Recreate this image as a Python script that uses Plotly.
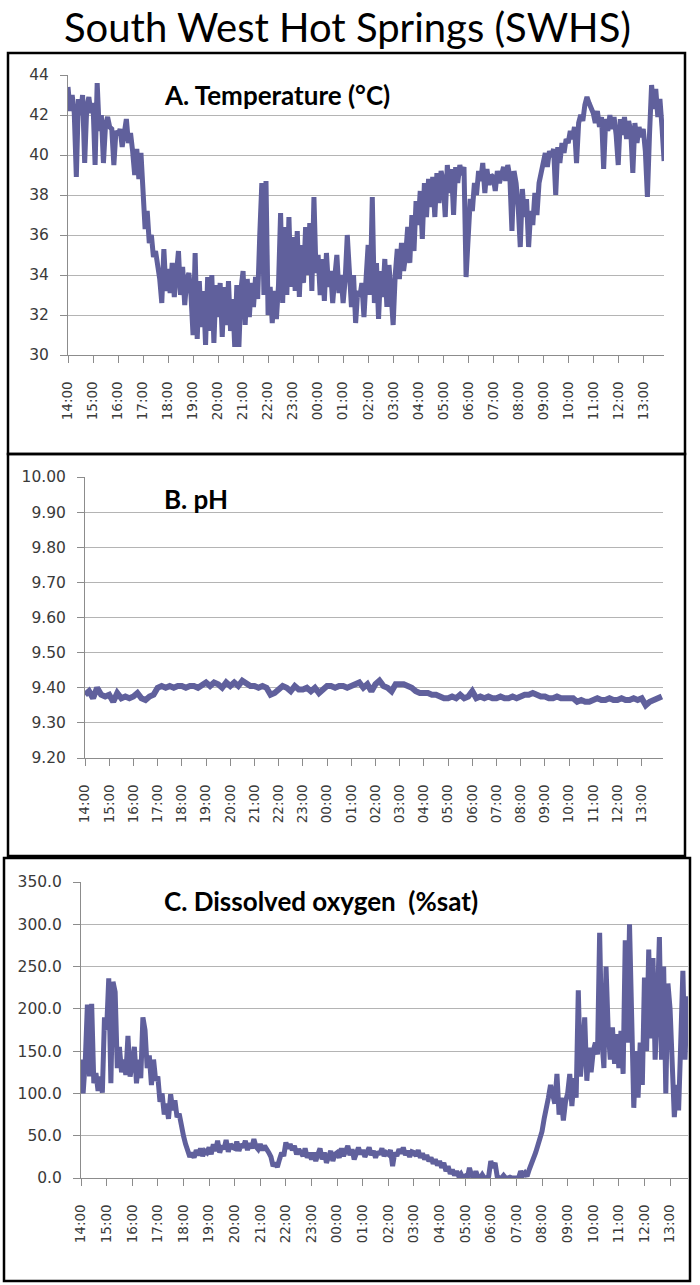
import pandas as pd
import plotly.graph_objects as go

START = "2000-01-01 14:00"

# Temperature (deg C), every 5 minutes from 14:00
temp_c = [
    43.4, 42.2, 43.0, 42.1, 38.9, 42.8, 42.0, 43.0, 39.6, 42.4, 42.9, 42.1,
    42.6, 39.5, 43.6, 41.2, 42.0, 39.6, 41.5, 41.9, 41.4, 41.3, 39.5, 41.2,
    41.0, 41.3, 40.4, 41.0, 41.8, 40.6, 41.1, 40.2, 39.0, 40.3, 38.8, 40.1,
    37.5, 36.3, 37.2, 35.6, 36.0, 34.9, 35.2, 34.5, 33.8, 32.6, 35.3, 33.2,
    34.3, 33.1, 34.6, 32.9, 34.0, 35.2, 33.0, 34.4, 32.5, 33.8, 34.1, 33.0,
    31.0, 35.1, 30.8, 33.7, 31.4, 33.2, 30.5, 33.9, 31.2, 34.0, 30.6, 33.5,
    31.9, 33.6, 30.9, 33.4, 31.5, 33.7, 31.2, 32.8, 30.4, 33.5, 30.4, 33.3,
    34.2, 31.5, 33.8, 31.9, 33.6, 32.4, 33.9, 32.8, 36.0, 38.6, 33.0, 38.7,
    32.0, 33.4, 31.6, 33.2, 31.8, 33.5, 37.1, 32.6, 36.4, 33.0, 36.9, 33.4,
    35.9, 33.2, 36.2, 32.9, 35.5, 33.6, 36.4, 34.0, 36.6, 33.2, 37.9, 34.1,
    35.0, 33.0, 34.8, 32.7, 35.1, 33.4, 34.2, 32.6, 33.9, 35.0, 33.1, 34.0,
    32.6, 33.8, 36.0, 33.5, 32.4, 34.0, 31.6, 33.2, 32.9, 33.6, 31.9, 33.8,
    35.5, 33.0, 37.9, 32.6, 34.6, 31.8, 34.2, 32.9, 34.8, 32.4, 34.5, 33.1,
    31.5, 34.0, 35.3, 33.8, 35.6, 34.2, 35.0, 36.4, 34.6, 37.0, 35.2, 37.7,
    36.5, 38.2, 35.8, 38.6, 36.9, 38.8, 37.4, 38.9, 36.9, 39.1, 37.6, 39.2,
    38.7, 36.9, 39.5, 38.1, 39.3, 37.0, 39.4, 38.6, 39.5, 39.0, 39.4, 33.9,
    36.4, 37.8, 37.2, 38.6, 38.0, 39.2, 38.7, 39.6, 38.1, 39.3, 38.5, 39.0,
    38.9, 38.2, 39.2, 38.6, 39.0, 39.4, 38.7, 39.5, 38.9, 36.2, 39.2, 38.6,
    37.4, 35.4, 38.3, 36.9, 37.8, 35.4, 37.2, 36.5, 38.1, 37.0, 38.6, 39.2,
    39.6, 40.1, 39.4, 40.2, 39.9, 40.3, 38.0, 40.4, 39.6, 40.6, 40.1, 40.8,
    40.6, 41.2, 40.8, 41.4, 39.6, 41.6, 42.0, 41.7, 42.5, 42.9, 42.6, 42.3,
    42.1, 41.6, 42.2, 41.4, 41.9, 39.3, 41.8, 41.2, 42.0, 41.3, 41.9, 41.0,
    39.5, 41.8, 41.0, 41.9, 40.8, 41.7, 41.2, 39.1, 41.6, 40.6, 41.4, 40.9,
    41.3, 40.2, 37.9, 41.0, 43.5, 42.3, 43.3, 41.9, 42.8, 41.4, 39.7,
]

# pH, every 10 minutes from 14:00
ph = [
    9.38, 9.39, 9.37, 9.40, 9.38, 9.375,
    9.38, 9.36, 9.385, 9.37, 9.375, 9.37,
    9.375, 9.385, 9.37, 9.365, 9.375, 9.38,
    9.40, 9.405, 9.40, 9.405, 9.40, 9.405,
    9.405, 9.40, 9.405, 9.405, 9.40, 9.41,
    9.415, 9.405, 9.415, 9.41, 9.40, 9.415,
    9.405, 9.415, 9.405, 9.42, 9.41, 9.405,
    9.405, 9.40, 9.405, 9.40, 9.38, 9.385,
    9.395, 9.405, 9.40, 9.39, 9.405, 9.395,
    9.395, 9.40, 9.39, 9.40, 9.385, 9.395,
    9.405, 9.405, 9.40, 9.405, 9.405, 9.40,
    9.405, 9.41, 9.415, 9.40, 9.41, 9.39,
    9.41, 9.42, 9.405, 9.40, 9.39, 9.41,
    9.41, 9.41, 9.405, 9.40, 9.39, 9.385,
    9.385, 9.385, 9.38, 9.38, 9.375, 9.37,
    9.37, 9.375, 9.37, 9.38, 9.37, 9.375,
    9.39, 9.37, 9.375, 9.37, 9.375, 9.37,
    9.37, 9.375, 9.37, 9.37, 9.375, 9.37,
    9.375, 9.38, 9.38, 9.385, 9.38, 9.375,
    9.375, 9.37, 9.37, 9.375, 9.37, 9.37,
    9.37, 9.37, 9.36, 9.365, 9.36, 9.36,
    9.365, 9.37, 9.365, 9.365, 9.37, 9.365,
    9.365, 9.37, 9.365, 9.365, 9.37, 9.365,
    9.37, 9.35, 9.36, 9.365, 9.37, 9.375,
]

# Dissolved oxygen (%sat), every 5 minutes from 14:00
do_sat = [
    140, 100, 138, 205, 120, 206, 112, 124, 103, 120, 101, 190,
    175, 236, 112, 232, 220, 130, 155, 125, 140, 122, 168, 120,
    135, 155, 112, 140, 118, 190, 175, 130, 145, 110, 140, 115,
    120, 90, 100, 75, 88, 70, 99, 80, 92, 72, 76, 60,
    50, 40, 32, 25, 30, 24, 33, 27, 35, 26, 32, 30,
    36, 28, 40, 32, 44, 30, 38, 34, 45, 31, 40, 36,
    35, 43, 32, 40, 36, 44, 33, 41, 35, 46, 37, 34,
    40, 33, 38, 35, 30, 25, 14, 18, 13, 22, 30, 26,
    42, 35, 40, 33, 38, 28, 34, 30, 26, 35, 24, 30,
    22, 30, 20, 28, 35, 22, 30, 18, 26, 32, 20, 28,
    30, 24, 35, 26, 32, 38, 27, 34, 22, 30, 36, 28,
    33, 25, 30, 36, 27, 32, 24, 31, 28, 35, 26, 30,
    28, 33, 14, 30, 26, 34, 29, 36, 27, 32, 25, 31,
    30, 26, 33, 24, 29, 22, 27, 20, 24, 17, 22, 15,
    20, 12, 18, 8, 14, 5, 10, 3, 8, 2, 5, 0,
    2, 0, 12, 3, 0, 8, 1, 0, 4, 0, 0, 2,
    20, 12, 18, 2, 0, 0, 3, 0, 0, 1, 0, 0,
    0, 0, 8, 3, 6, 2, 10, 16, 24, 30, 38, 46,
    55, 70, 80, 95, 110, 100, 88, 123, 75, 95, 68, 90,
    100, 123, 85, 118, 95, 222, 120, 150, 190, 115, 154, 125,
    150, 160, 146, 290, 165, 130, 250, 175, 140, 178, 135, 170,
    130, 174, 123, 281, 160, 300, 210, 83, 150, 95, 160, 110,
    237, 150, 270, 165, 260, 140, 200, 285, 140, 250, 100, 230,
    200, 140, 72, 110, 80, 160, 245, 140, 215,
]

temp_ticks = [30, 32, 34, 36, 38, 40, 42, 44]
ph_ticks = [9.2, 9.3, 9.4, 9.5, 9.6, 9.7, 9.8, 9.9, 10.0]
do_ticks = [0, 50, 100, 150, 200, 250, 300, 350]

t_temp = pd.date_range(START, periods=len(temp_c), freq="5min")
t_ph = pd.date_range(START, periods=len(ph), freq="10min")
t_do = pd.date_range(START, periods=len(do_sat), freq="5min")

W, H = 700, 1285
LINE = "#60609c"
GRID = "#b4b4b4"
AXC = "#8c8c8c"
TXT = "#3a3a3a"
t0 = pd.Timestamp(START)


def xd(a, b):
    return [a / W, b / W]


def yd(top, bottom):
    return [1 - bottom / H, 1 - top / H]


fig = go.Figure()
fig.add_trace(go.Scatter(x=t_temp, y=temp_c, mode="lines", xaxis="x", yaxis="y",
                         line=dict(color=LINE, width=5), showlegend=False))
fig.add_trace(go.Scatter(x=t_ph, y=ph, mode="lines", xaxis="x2", yaxis="y2",
                         line=dict(color=LINE, width=6), showlegend=False))
fig.add_trace(go.Scatter(x=t_do, y=do_sat, mode="lines", xaxis="x3", yaxis="y3",
                         line=dict(color=LINE, width=5), showlegend=False))


def xaxis(dom, yname, hours):
    return dict(domain=dom, anchor=yname, type="date", automargin=False,
                range=[t0, t0 + pd.Timedelta(hours=hours)],
                tick0=t0, dtick=3600000, tickformat="%H:%M", tickangle=-90,
                ticks="outside", ticklen=7, tickcolor=AXC, showgrid=False,
                showline=True, linecolor=AXC, linewidth=1, zeroline=False,
                tickfont=dict(family="DejaVu Sans", size=13.5, color=TXT),
                ticklabelstandoff=13)


def yaxis(dom, xname, rng, ticks, fmt):
    return dict(domain=dom, anchor=xname, range=rng, tickvals=ticks, automargin=False,
                tickformat=fmt, ticks="outside", ticklen=7, tickcolor=AXC,
                showgrid=True, gridcolor=GRID, gridwidth=1, zeroline=False,
                showline=True, linecolor=AXC, linewidth=1,
                tickfont=dict(family="DejaVu Sans", size=15.5, color=TXT),
                ticklabelstandoff=8)


fig.update_layout(
    width=W, height=H, margin=dict(l=0, r=0, t=0, b=0, pad=0, autoexpand=False),
    paper_bgcolor="white", plot_bgcolor="white",
    xaxis=xaxis(xd(68, 664), "y", 23.83),
    yaxis=yaxis(yd(75, 355), "x", [30, 44], temp_ticks, "d"),
    xaxis2=xaxis(xd(85, 663), "y2", 23.88),
    yaxis2=yaxis(yd(477, 758), "x2", [9.2, 10.0], ph_ticks, ".2f"),
    xaxis3=xaxis(xd(81, 688), "y3", 23.7),
    yaxis3=yaxis(yd(882, 1178), "x3", [0, 350], do_ticks, ".1f"),
)

# panel frames
for (x0, y0, x1, y1) in [(8, 53, 685, 454), (8, 454, 685, 856), (4, 858, 690, 1281)]:
    fig.add_shape(type="rect", xref="paper", yref="paper",
                  x0=x0 / W, x1=x1 / W, y0=1 - y1 / H, y1=1 - y0 / H,
                  line=dict(color="black", width=2.5), layer="above")

fig.add_annotation(text="South West Hot Springs (SWHS)", xref="paper", yref="paper",
                   x=347 / W, y=1 - 27 / H, xanchor="center", yanchor="middle",
                   showarrow=False, font=dict(family="Lato", size=40, color="black"))

for txt, xp, yp in [("A. Temperature (°C)", 162, 95),
                    ("B. pH", 162, 499),
                    ("C. Dissolved oxygen  (%sat)", 162, 901)]:
    fig.add_annotation(text="<b>" + txt.replace("  ", "&nbsp; ") + "</b>",
                       xref="paper", yref="paper",
                       x=xp / W, y=1 - yp / H, xanchor="left", yanchor="middle",
                       showarrow=False, font=dict(family="Lato", size=26, color="black"))

fig.write_html("out.html", config={"displayModeBar": False},
               post_script="document.body.style.margin='0';"
                           "document.body.style.overflow='hidden';")
